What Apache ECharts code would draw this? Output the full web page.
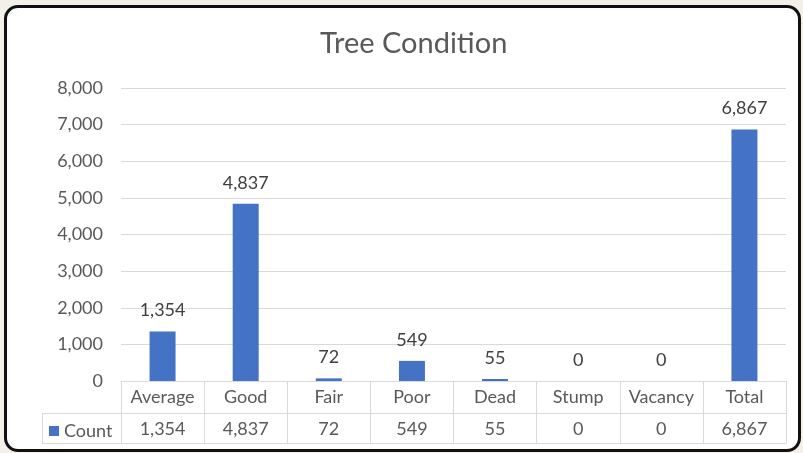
<!DOCTYPE html>
<html>
<head>
<meta charset="utf-8">
<script src="https://cdn.jsdelivr.net/npm/echarts@6/dist/echarts.min.js"></script>
<style>
    html, body { margin: 0; padding: 0; background: #f3f0ea; }
    .frame {
        position: absolute; left: 4px; top: 5px; width: 791px; height: 441px;
        border: 3px solid #111; border-radius: 14px; background: #fff;
    }
    #main { position: absolute; left: 0; top: 0; width: 803px; height: 453px; }
</style>
</head>
<body>
<div class="frame"></div>
<div id="main"></div>
<script>
// 数据
var categories = ["Average", "Good", "Fair", "Poor", "Dead", "Stump", "Vacancy", "Total"];
var counts = [1354, 4837, 72, 549, 55, 0, 0, 6867];
var yTicks = [0, 1000, 2000, 3000, 4000, 5000, 6000, 7000, 8000];

(function () {
    var myCharts = echarts.init(document.getElementById("main"));
    var font = "Lato";
    var lineColor = "#d9d9d9";

    function fmt(v) {
        return Number(v).toLocaleString("en-US");
    }

    var option = {
        title: {
            text: "Tree Condition",
            left: 315,
            top: 24,
            textStyle: { fontFamily: font, fontSize: 29, fontWeight: "normal", color: "#595959" }
        },
        legend: {
            data: ["Count"],
            left: 49,
            top: 420,
            padding: 0,
            icon: "rect",
            itemWidth: 10,
            itemHeight: 10,
            itemGap: 4,
            textStyle: { fontFamily: font, fontSize: 18, lineHeight: 20, color: "#595959", padding: [2, 0, 0, 0] }
        },
        grid: {
            left: 121,
            right: 17,
            top: 88,
            bottom: 72
        },
        xAxis: [{
            type: "category",
            data: categories,
            axisLine: { lineStyle: { color: lineColor } },
            axisTick: { show: true, interval: 0, length: 62, lineStyle: { color: lineColor } },
            axisLabel: {
                interval: 0, margin: 6, fontFamily: font, fontSize: 18,
                lineHeight: 20, color: "#595959"
            }
        }, {
            type: "category",
            data: categories,
            position: "bottom",
            offset: 32,
            axisLine: { lineStyle: { color: lineColor } },
            axisTick: { show: false },
            axisLabel: {
                interval: 0, margin: 6, fontFamily: font, fontSize: 18,
                lineHeight: 20, color: "#595959",
                formatter: function (v, i) { return fmt(counts[i]); }
            }
        }],
        yAxis: {
            type: "value",
            min: yTicks[0],
            max: yTicks[yTicks.length - 1],
            interval: 1000,
            axisLine: { show: false },
            axisTick: { show: false },
            axisLabel: {
                margin: 18, fontFamily: font, fontSize: 18, color: "#595959",
                formatter: fmt
            },
            splitLine: { lineStyle: { color: lineColor } }
        },
        series: [{
            name: "Count",
            type: "bar",
            data: counts,
            barWidth: 26,
            itemStyle: { color: "#4472c4" },
            label: {
                show: true,
                position: "top",
                distance: 12,
                fontFamily: font,
                fontSize: 18,
                color: "#404040",
                formatter: function (p) { return fmt(p.value); }
            }
        }],
        // 表格边框
        graphic: [
            { type: "line", shape: { x1: 42, y1: 413.5, x2: 121, y2: 413.5 }, style: { stroke: lineColor } },
            { type: "line", shape: { x1: 42, y1: 443.5, x2: 786, y2: 443.5 }, style: { stroke: lineColor } },
            { type: "line", shape: { x1: 42.5, y1: 413, x2: 42.5, y2: 444 }, style: { stroke: lineColor } }
        ]
    };

    myCharts.setOption(option);
})();
</script>
</body>
</html>
